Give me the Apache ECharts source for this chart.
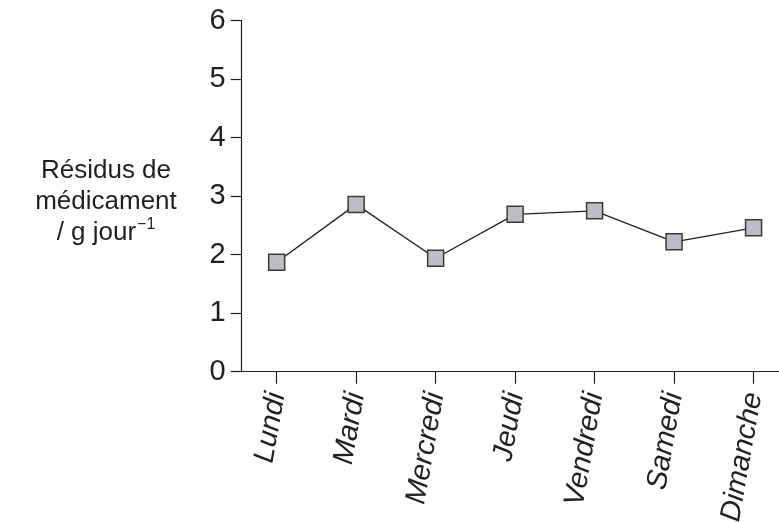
<!DOCTYPE html>
<html>
<head>
<meta charset="utf-8">
<script src="https://cdn.jsdelivr.net/npm/echarts@6/dist/echarts.min.js"></script>
<style>html,body{margin:0;padding:0;background:#fff;}#c{width:779px;height:522px;}</style>
</head>
<body>
<div id="c"></div>
<script>
const days = ['Lundi', 'Mardi', 'Mercredi', 'Jeudi', 'Vendredi', 'Samedi', 'Dimanche'];
const residus = [1.87, 2.86, 1.94, 2.69, 2.75, 2.22, 2.46];
const yTicks = [0, 1, 2, 3, 4, 5, 6];

const dark = '#231f20';
const chart = echarts.init(document.getElementById('c'), null, {renderer: 'canvas'});
const idx = days.map((d, i) => i);
chart.setOption({
  animation: false,
  backgroundColor: '#ffffff',
  title: {
    text: 'Résidus de\nmédicament\n/ g jour{sup|−1}',
    left: 101,
    top: 150,
    textAlign: 'center',
    textStyle: {
      fontFamily: 'Liberation Sans, Arial, sans-serif',
      fontWeight: 'normal',
      fontSize: 26,
      lineHeight: 31,
      color: dark,
      rich: {
        sup: {fontSize: 16, color: dark, fontFamily: 'Liberation Sans, Arial, sans-serif', verticalAlign: 'top', padding: [0, 0, 12, 1]}
      }
    }
  },
  grid: {left: 241.7, top: 20.7, bottom: 150.3, right: 0, containLabel: false, outerBoundsMode: 'none'},
  xAxis: {
    type: 'value',
    min: -0.44,
    max: 6.32,
    axisLine: {show: true, onZero: false, lineStyle: {color: dark, width: 1.2}},
    axisTick: {show: true, length: 12, customValues: idx, lineStyle: {color: dark, width: 1.2}},
    splitLine: {show: false},
    axisLabel: {
      customValues: idx,
      formatter: v => days[Math.round(v)] || '',
      rotate: 80,
      margin: 21,
      fontSize: 29,
      fontStyle: 'italic',
      fontFamily: 'Liberation Sans, Arial, sans-serif',
      color: dark
    }
  },
  yAxis: {
    type: 'value',
    min: 0,
    max: 6,
    interval: 1,
    axisLine: {show: true, onZero: false, lineStyle: {color: dark, width: 1.2}},
    axisTick: {show: true, length: 11, lineStyle: {color: dark, width: 1.2}},
    splitLine: {show: false},
    axisLabel: {
      formatter: v => yTicks.includes(v) ? String(v) : '',
      margin: 16,
      fontSize: 29,
      fontFamily: 'Liberation Sans, Arial, sans-serif',
      color: dark
    }
  },
  series: [{
    type: 'line',
    data: days.map((d, i) => [i, residus[i]]),
    symbol: 'rect',
    symbolSize: 16,
    itemStyle: {color: '#bdbec2', borderColor: '#3a3a3a', borderWidth: 1.5},
    lineStyle: {color: dark, width: 1.3},
    z: 3
  }]
});
</script>
</body>
</html>
